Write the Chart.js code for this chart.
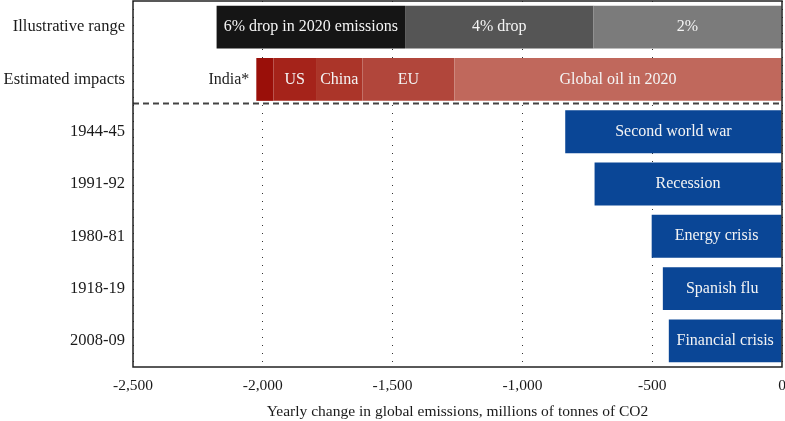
<!DOCTYPE html>
<html>
<head>
<meta charset="utf-8">
<title>Yearly change in global emissions</title>
<script src="https://cdn.jsdelivr.net/npm/chart.js@4/dist/chart.umd.min.js"></script>
<style>
    html, body { margin: 0; padding: 0; background: #fff; }
    #wrap { width: 785px; height: 421px; position: relative; }
</style>
</head>
<body>
<div id="wrap"><canvas id="emissionsChart"></canvas></div>
<script>
// Rows of the chart, top to bottom
const categories = ['Illustrative range', 'Estimated impacts', '1944-45', '1991-92', '1980-81', '1918-19', '2008-09'];

// Illustrative range (2%, 4%, 6% of 2020 emissions, stacked from zero outwards)
const range2 = [-726, null, null, null, null, null, null];
const range4 = [-726, null, null, null, null, null, null];
const range6 = [-726, null, null, null, null, null, null];

// Estimated impacts, stacked from zero outwards
const globalOil = [null, -1262, null, null, null, null, null];
const euImpact = [null, -354, null, null, null, null, null];
const chinaImpact = [null, -179, null, null, null, null, null];
const usImpact = [null, -164, null, null, null, null, null];
const indiaImpact = [null, -66, null, null, null, null, null];

// Historical drops
const historical = [null, null, -835, -722, -502, -459, -436];
const historicalLabels = [null, null, 'Second world war', 'Recession', 'Energy crisis', 'Spanish flu', 'Financial crisis'];

// X axis
const xMin = -2500;
const xMax = 0;
const xStep = 500;
const xTitle = 'Yearly change in global emissions, millions of tonnes of CO2';

const FONT = '"Liberation Serif", "DejaVu Serif", serif';

// Draws the labels on (or next to) every bar segment
const barLabelsPlugin = {
    id: 'barLabels',
    afterDatasetsDraw(chart) {
        const ctx = chart.ctx;
        ctx.save();
        ctx.font = '16px ' + FONT;
        ctx.textBaseline = 'middle';
        chart.data.datasets.forEach((ds, di) => {
            const meta = chart.getDatasetMeta(di);
            meta.data.forEach((bar, i) => {
                if (ds.data[i] == null) return;
                const text = ds.barText ? ds.barText[i] : ds.label;
                if (!text) return;
                const left = Math.min(bar.x, bar.base);
                const right = Math.max(bar.x, bar.base);
                if (ds.labelOutside) {
                    ctx.fillStyle = '#222';
                    ctx.textAlign = 'right';
                    ctx.fillText(text, left - 7, bar.y);
                } else {
                    ctx.fillStyle = '#f4f4f4';
                    ctx.textAlign = 'center';
                    ctx.fillText(text, (left + right) / 2, bar.y);
                }
            });
        });
        ctx.restore();
    }
};

// Frame around the plot and the dashed line under the estimated impacts
const framePlugin = {
    id: 'frame',
    beforeDatasetsDraw(chart) {
        const ctx = chart.ctx;
        const area = chart.chartArea;
        const y = chart.scales.y.getPixelForValue(1.5) - 2;
        ctx.save();
        ctx.strokeStyle = '#444';
        ctx.lineWidth = 2;
        ctx.setLineDash([6, 4]);
        ctx.beginPath();
        ctx.moveTo(area.left, y);
        ctx.lineTo(area.right, y);
        ctx.stroke();
        ctx.restore();
    },
    afterDraw(chart) {
        const ctx = chart.ctx;
        const area = chart.chartArea;
        ctx.save();
        ctx.strokeStyle = '#222';
        ctx.lineWidth = 1.5;
        ctx.strokeRect(area.left, area.top, area.right - area.left, area.bottom - area.top);
        ctx.restore();
    }
};

function makeDataset(label, data, color, extra) {
    return Object.assign({
        label: label,
        data: data,
        backgroundColor: color,
        borderWidth: 0,
        categoryPercentage: 1,
        barPercentage: 0.82
    }, extra || {});
}

const datasets = [
    makeDataset('2%', range2, '#7b7b7b'),
    makeDataset('4% drop', range4, '#555555'),
    makeDataset('6% drop in 2020 emissions', range6, '#151515'),
    makeDataset('Global oil in 2020', globalOil, '#c0685c'),
    makeDataset('EU', euImpact, '#b1463b'),
    makeDataset('China', chinaImpact, '#ab3529'),
    makeDataset('US', usImpact, '#a5231a'),
    makeDataset('India*', indiaImpact, '#9a0f09', { labelOutside: true }),
    makeDataset('Historical', historical, '#0a4696', { barText: historicalLabels })
];

document.addEventListener('DOMContentLoaded', () => {
    const ctx = document.getElementById('emissionsChart').getContext('2d');

    new Chart(ctx, {
        type: 'bar',
        data: {
            labels: categories,
            datasets: datasets
        },
        options: {
            indexAxis: 'y',
            responsive: true,
            maintainAspectRatio: false,
            animation: false,
            layout: { padding: { top: 1, right: 3, left: 0, bottom: 0 } },
            plugins: {
                legend: { display: false },
                tooltip: { enabled: false }
            },
            scales: {
                x: {
                    stacked: true,
                    min: xMin,
                    max: xMax,
                    ticks: {
                        stepSize: xStep,
                        color: '#1a1a1a',
                        padding: 10,
                        font: { family: FONT, size: 15.5 },
                        callback: (v) => v.toLocaleString('en-US')
                    },
                    grid: { color: '#333', lineWidth: 1, drawTicks: false },
                    border: { display: false, dash: [1, 7] },
                    title: {
                        display: true,
                        text: xTitle,
                        color: '#1a1a1a',
                        font: { family: FONT, size: 15.5 },
                        padding: { top: 4, bottom: 0 }
                    },
                    afterFit: (scale) => {
                        scale.height = 54;
                        scale.paddingLeft = 0;
                        scale.paddingRight = 0;
                    }
                },
                y: {
                    stacked: true,
                    ticks: {
                        color: '#1a1a1a',
                        padding: 8,
                        font: { family: FONT, size: 16.5 }
                    },
                    grid: { display: false, drawTicks: false },
                    border: { display: false },
                    afterFit: (scale) => {
                        scale.width = 133;
                        scale.paddingTop = 0;
                        scale.paddingBottom = 0;
                    }
                }
            }
        },
        plugins: [framePlugin, barLabelsPlugin]
    });
});
</script>
</body>
</html>
